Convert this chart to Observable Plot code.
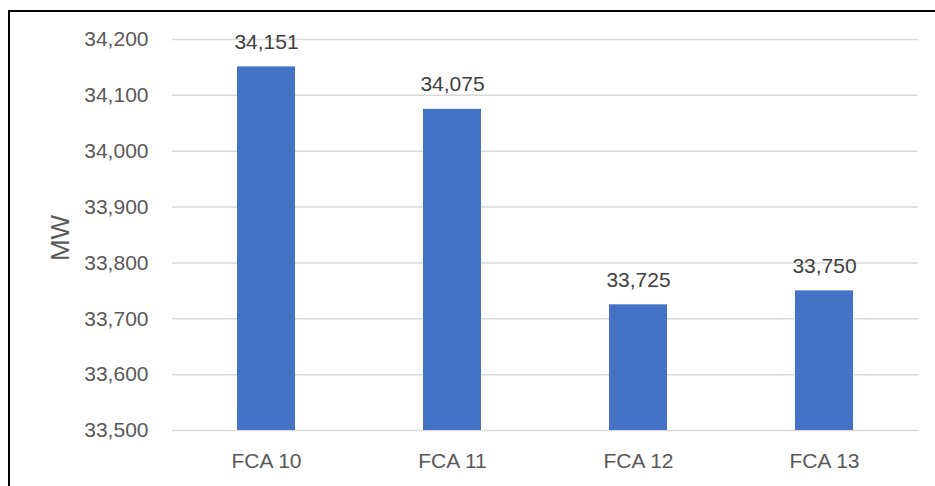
<!DOCTYPE html>
<html>
<head>
<meta charset="utf-8">
<script src="https://cdn.jsdelivr.net/npm/d3@7"></script>
<script src="https://cdn.jsdelivr.net/npm/@observablehq/plot@0.6"></script>
<style>
  html, body { margin: 0; padding: 0; background: #fff; overflow: hidden; }
  #wrap { position: relative; width: 935px; height: 486px; }
  #frame { position: absolute; left: 8px; top: 10px; width: 1000px; height: 600px;
           border-left: 2px solid #000; border-top: 2px solid #000; box-sizing: border-box; }
  #chart { position: absolute; left: 0; top: 0; }
</style>
</head>
<body>
<div id="wrap"><div id="frame"></div><div id="chart"></div></div>
<script>
const categories = ["FCA 10", "FCA 11", "FCA 12", "FCA 13"];
const values = [34151, 34075, 33725, 33750];
const yTicks = [33500, 33600, 33700, 33800, 33900, 34000, 34100, 34200];
const yLabel = "MW";

const data = categories.map((c, i) => ({ cat: c, value: values[i] }));
const fmt = d3.format(",");
const font = "'Liberation Sans', Arial, sans-serif";

const chart = Plot.plot({
  width: 935,
  height: 486,
  marginLeft: 172,
  marginRight: 17,
  marginTop: 39,
  marginBottom: 56,
  style: { fontFamily: font, fontSize: "21px", color: "#595959", background: "transparent", overflow: "visible" },
  x: { domain: categories, paddingInner: 0.69, paddingOuter: 0.345, label: null },
  y: { domain: [yTicks[0], yTicks[yTicks.length - 1]], label: null },
  marks: [
    Plot.gridY(yTicks, { stroke: "#d9d9d9", strokeOpacity: 1, strokeWidth: 1.5 }),
    Plot.axisY(yTicks, { tickSize: 0, tickPadding: 24, tickFormat: fmt, fill: "#595959", fontSize: 21 }),
    Plot.axisX({ tickSize: 0, tickPadding: 23, fill: "#595959", fontSize: 21 }),
    Plot.barY(data, { x: "cat", y1: yTicks[0], y2: "value", fill: "#4472C4" }),
    Plot.text(data, { x: "cat", y: "value", text: d => fmt(d.value), dy: -25, fill: "#404040", fontSize: 21 }),
    Plot.text([yLabel], { frameAnchor: "left", textAnchor: "middle", dx: -112, dy: 3, rotate: -90, fill: "#595959", fontSize: 26, text: d => d })
  ]
});
document.getElementById("chart").appendChild(chart);
</script>
</body>
</html>
